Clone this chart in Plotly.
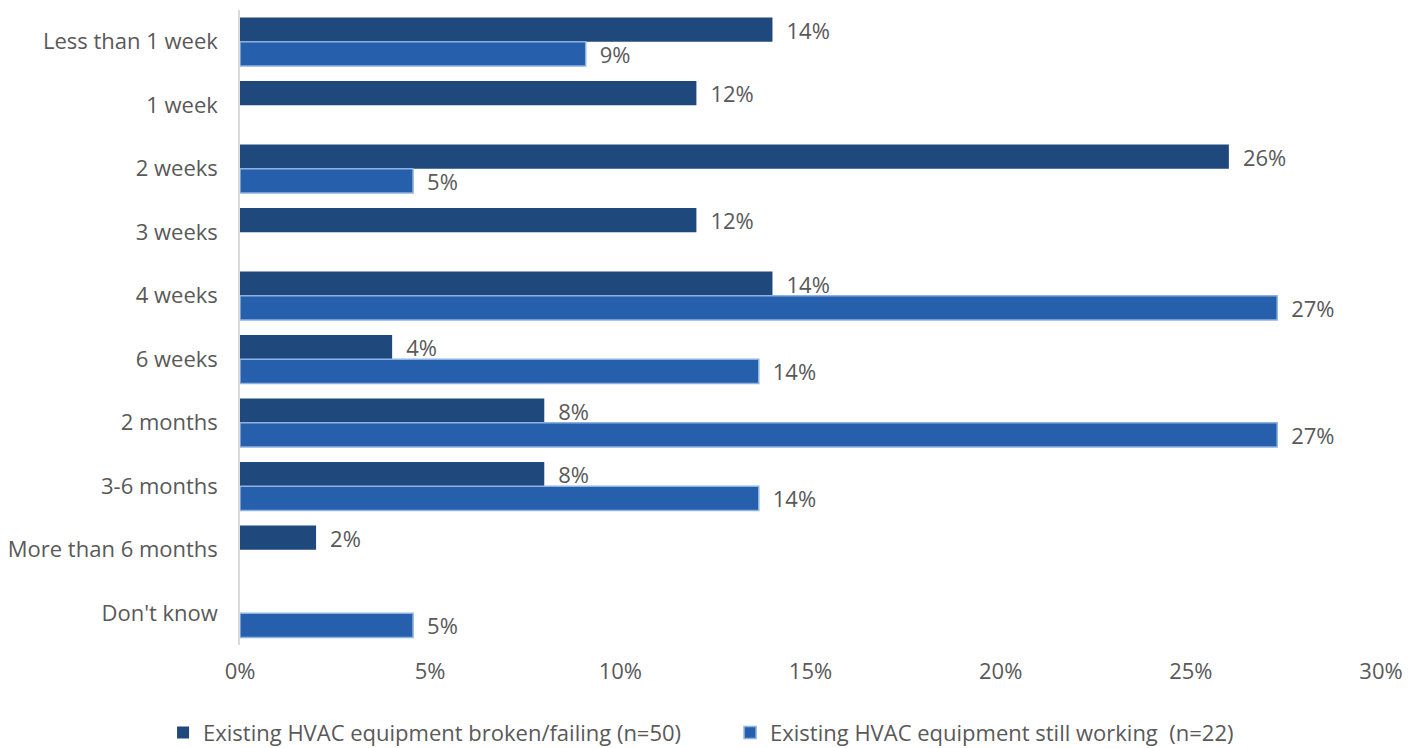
import plotly.graph_objects as go

# Time categories (top to bottom)
categories = [
    "Less than 1 week", "1 week", "2 weeks", "3 weeks", "4 weeks",
    "6 weeks", "2 months", "3-6 months", "More than 6 months", "Don't know",
]

# Share of respondents (%) per group; None = no response in that category
broken_pct = [14, 12, 26, 12, 14, 4, 8, 8, 2, None]
working_pct = [9.09, None, 4.55, None, 27.27, 13.64, 27.27, 13.64, None, 4.55]

series_names = [
    "Existing HVAC equipment broken/failing (n=50)",
    "Existing HVAC equipment still working\u00a0\u00a0(n=22)",
]

x_ticks = [0, 5, 10, 15, 20, 25, 30]
x_tick_text = ["0%", "5%", "10%", "15%", "20%", "25%", "30%"]

FONT = "Open Sans"
SIZE = 22
TEXT_COLOR = "#595959"
label_font = dict(family=FONT, size=SIZE, color=TEXT_COLOR)

fig = go.Figure()
fig.add_trace(go.Bar(
    y=categories, x=broken_pct, orientation="h", name=series_names[0],
    marker=dict(color="#1f497d", line=dict(color="#1f497d", width=0)),
    texttemplate="\u2002%{x:.0f}%", textposition="outside",
    cliponaxis=False, constraintext="none", textfont=label_font,
))
fig.add_trace(go.Bar(
    y=categories, x=working_pct, orientation="h", name=series_names[1],
    marker=dict(color="#2660ad", line=dict(color="#8fb3e0", width=1.5)),
    texttemplate="\u2002%{x:.0f}%", textposition="outside",
    cliponaxis=False, constraintext="none", textfont=label_font,
))

fig.update_layout(
    width=1419, height=748,
    margin=dict(l=240, r=38, t=10, b=103, autoexpand=False),
    paper_bgcolor="white", plot_bgcolor="white",
    barmode="group", bargap=0.24, bargroupgap=0,
    font=label_font,
    showlegend=True,
    legend=dict(
        orientation="h", x=0.4295, xanchor="center",
        y=-0.105, yanchor="top", font=label_font,
        traceorder="normal", itemwidth=30, entrywidth=522,
    ),
)
fig.update_xaxes(
    range=[0, 30], tickvals=x_ticks, ticktext=x_tick_text, tickangle=0,
    showgrid=False, zeroline=False, showline=False,
    ticks="outside", ticklen=7, tickcolor="rgba(0,0,0,0)",
    tickfont=label_font,
)
fig.update_yaxes(
    autorange="reversed", showgrid=False, zeroline=False,
    showline=True, linecolor="#d9d9d9", linewidth=1.5,
    ticks="outside", ticklen=16, tickcolor="rgba(0,0,0,0)",
    tickfont=label_font,
)

fig.write_html("out.html")
